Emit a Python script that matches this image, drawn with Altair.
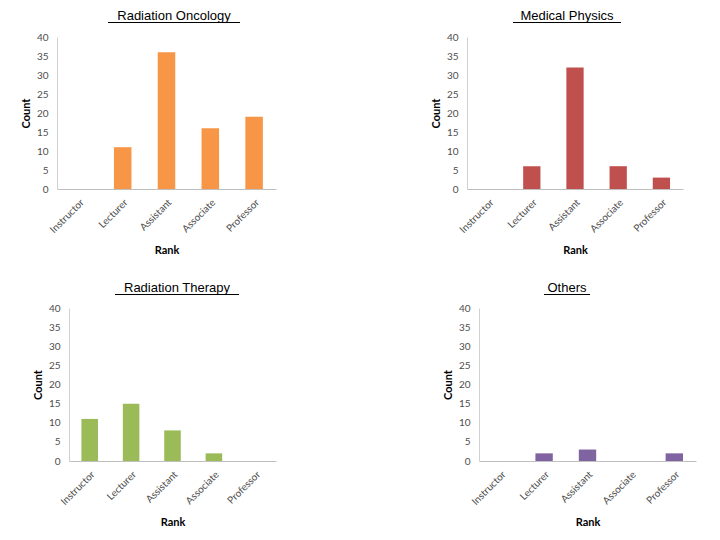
import altair as alt
import pandas as pd

ranks = ["Instructor", "Lecturer", "Assistant", "Associate", "Professor"]
onc_counts = [0, 11, 36, 16, 19]
phys_counts = [0, 6, 32, 6, 3]
ther_counts = [11, 15, 8, 2, 0]
other_counts = [0, 2, 3, 0, 2]

titles = ["Radiation Oncology", "Medical Physics", "Radiation Therapy", "Others"]
colors = ["#F79646", "#C0504D", "#9BBB59", "#8064A2"]
y_ticks = [0, 5, 10, 15, 20, 25, 30, 35, 40]

FONT = "Lato"


def panel(title, counts, color, w, h, tcx, tw, ty):
    df = pd.DataFrame({"Rank": ranks, "Count": counts})
    bars = alt.Chart(df).mark_bar(color=color).encode(
        x=alt.X("Rank:N", sort=ranks,
                scale=alt.Scale(paddingInner=0.6, paddingOuter=0.3),
                axis=alt.Axis(title="Rank", labelAngle=-45, ticks=False,
                              domainColor="#BFBFBF", labelColor="#4D4D4D",
                              labelFont=FONT, labelFontSize=10, labelPadding=8,
                              titleFont=FONT, titleFontSize=11, titleFontWeight="bold",
                              titleColor="#000000", titlePadding=10)),
        y=alt.Y("Count:Q", scale=alt.Scale(domain=[0, 40], nice=False),
                axis=alt.Axis(title="Count", values=y_ticks, grid=False, ticks=False,
                              domainColor="#D0D0D0", labelColor="#4D4D4D",
                              labelFont=FONT, labelFontSize=10, labelPadding=9,
                              titleFont=FONT, titleFontSize=11, titleFontWeight="bold",
                              titleColor="#000000", titlePadding=5)),
    )
    tdf = pd.DataFrame({"t": [title]})
    ttl = alt.Chart(tdf).mark_text(font="Liberation Sans", fontSize=13, color="#000000",
                                   align="center", baseline="alphabetic").encode(
        x=alt.value(tcx), y=alt.value(ty), text="t:N")
    ul = alt.Chart(tdf).mark_rule(color="#000000", strokeWidth=1).encode(
        x=alt.value(tcx - tw / 2), x2=alt.value(tcx + tw / 2), y=alt.value(ty + 2.5))
    return alt.layer(bars, ttl, ul).properties(width=w, height=h)


p1 = panel(titles[0], onc_counts, colors[0], 219, 152, 117, 132, -17)
p2 = panel(titles[1], phys_counts, colors[1], 216, 152, 100, 108, -17)
p3 = panel(titles[2], ther_counts, colors[2], 207, 153, 108, 124, -16)
p4 = panel(titles[3], other_counts, colors[3], 217, 153, 88, 46, -16)

spacer = alt.Chart(pd.DataFrame({"a": [0]})).mark_point(opacity=0).properties(width=12, height=153)

row1 = alt.hconcat(p1, p2, spacing=191, bounds="flush")
row2 = alt.hconcat(spacer, alt.hconcat(p3, p4, spacing=203, bounds="flush"),
                   spacing=0, bounds="flush")

chart = alt.vconcat(row1, row2, spacing=271, bounds="flush").configure_view(
    stroke=None
).properties(padding={"left": 12, "top": 2, "right": 5, "bottom": 5})

chart.save("out.html", embed_options={"renderer": "svg", "actions": False})
